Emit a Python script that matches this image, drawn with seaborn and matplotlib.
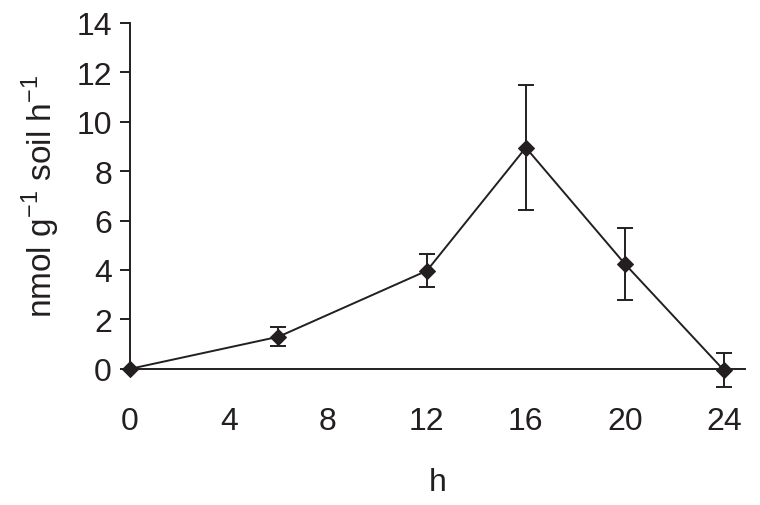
import pandas as pd
import matplotlib
matplotlib.use("Agg")
import matplotlib.pyplot as plt
import seaborn as sns

# time (h), rate and standard error
hours = [0, 6, 12, 16, 20, 24]
rate = [0.0, 1.30, 3.97, 8.95, 4.25, -0.05]
err = [0.0, 0.38, 0.67, 2.52, 1.46, 0.70]
xticks = [0, 4, 8, 12, 16, 20, 24]
yticks = [0, 2, 4, 6, 8, 10, 12, 14]

df = pd.DataFrame({"h": hours, "rate": rate, "err": err})

sns.set_style("ticks")
plt.rcParams['font.family'] = ['Liberation Sans', 'DejaVu Sans']
ink = '#231f20'

fig = plt.figure(figsize=(7.6, 5.06), dpi=100)
ax = fig.add_axes([0.171, 0.269, 0.809, 0.684])

ax.errorbar(df["h"], df["rate"], yerr=df["err"], fmt='none', ecolor=ink,
            elinewidth=1.4, capsize=6, capthick=1.4, clip_on=False, zorder=2)
sns.lineplot(data=df, x="h", y="rate", ax=ax, color=ink, linewidth=1.4,
             marker='D', markersize=8.5, markeredgecolor=ink, markerfacecolor=ink,
             clip_on=False, zorder=3)

ax.set_xlim(0, 24.85)
ax.set_ylim(0, 14)
ax.set_xticks(xticks)
ax.set_yticks(yticks)
ax.tick_params(axis='x', length=0, pad=27, labelsize=23, colors=ink)
ax.tick_params(axis='y', length=7, width=1.4, pad=6, labelsize=23, colors=ink)
for s in ['top', 'right']:
    ax.spines[s].set_visible(False)
for s in ['left', 'bottom']:
    ax.spines[s].set_linewidth(1.4)
    ax.spines[s].set_color(ink)

ax.set_xlabel("h", fontsize=23, color=ink, labelpad=22)
ax.set_ylabel(r"nmol g$^{\mathregular{-1}}$ soil h$^{\mathregular{-1}}$",
              fontsize=24, color=ink, labelpad=10)

fig.savefig("out.png", dpi=100)
